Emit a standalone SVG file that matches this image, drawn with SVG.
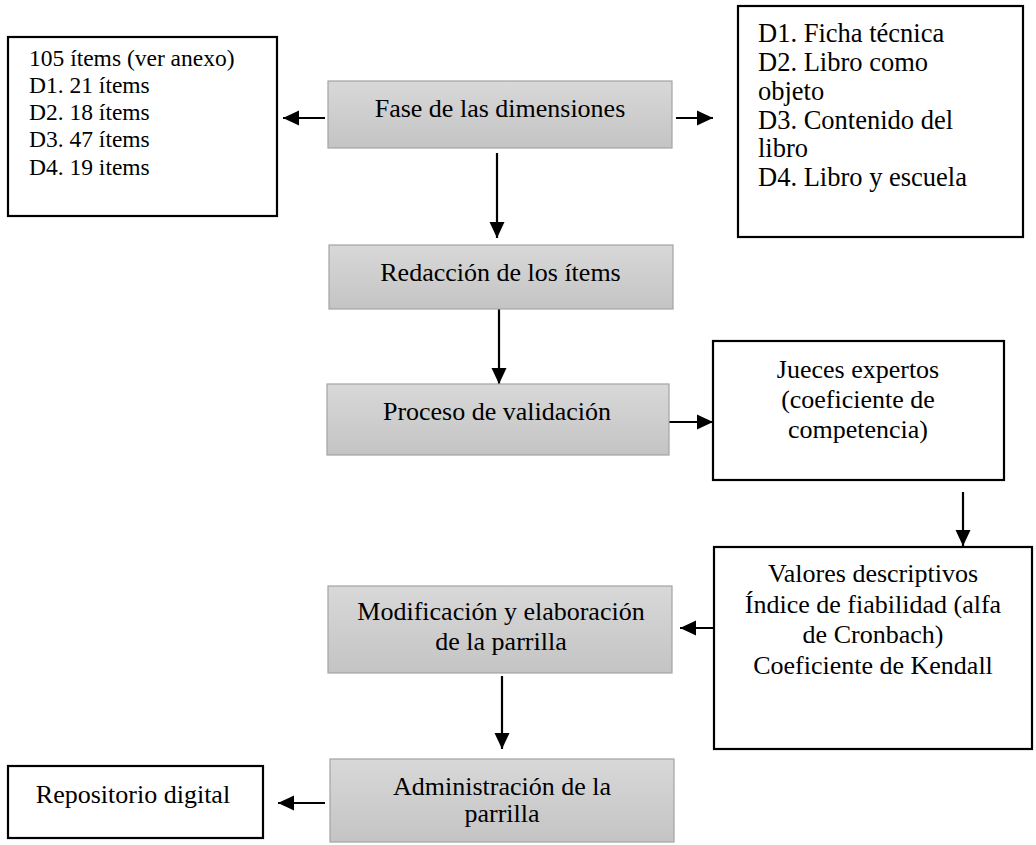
<svg xmlns="http://www.w3.org/2000/svg" width="1036" height="845" viewBox="0 0 1036 845">
<style>
.t{font-family:"Liberation Serif","Times New Roman",serif;fill:#000;}
.g{fill:url(#gr);stroke:#a3a3a3;stroke-width:1.2;}
.b{fill:#fff;stroke:#000;stroke-width:2.2;}
.c{stroke:#000;stroke-width:2.2;fill:none;marker-end:url(#ah);}
.m{font-size:26px;text-anchor:middle;}
</style>
<defs>
<linearGradient id="gr" x1="0" y1="0" x2="0" y2="1">
<stop offset="0" stop-color="#d8d8d8"/>
<stop offset="1" stop-color="#c4c4c4"/>
</linearGradient>
<marker id="ah" markerUnits="userSpaceOnUse" viewBox="0 0 16 16" refX="16" refY="8" markerWidth="16" markerHeight="16" orient="auto">
<path d="M0,0.5 L16,8 L0,15.5 z" fill="#000"/>
</marker>
</defs>
<rect width="1036" height="845" fill="#fff"/>
<g id="connectors">
<line class="c" x1="325" y1="118" x2="283" y2="118"/>
<line class="c" x1="676" y1="118" x2="713" y2="118"/>
<line class="c" x1="497" y1="153" x2="497" y2="238"/>
<line class="c" x1="499" y1="309" x2="499" y2="384"/>
<line class="c" x1="668" y1="422" x2="713" y2="422"/>
<line class="c" x1="963" y1="492" x2="963" y2="546"/>
<line class="c" x1="738" y1="628" x2="680" y2="628"/>
<line class="c" x1="502" y1="676" x2="502" y2="749"/>
<line class="c" x1="325" y1="803" x2="278" y2="803"/>
</g>
<g id="items">
<rect class="b" x="8" y="37" width="269" height="179"/>
<text class="t" font-size="23.5" x="29"><tspan x="29" y="66">105 ítems (ver anexo)</tspan><tspan x="29" y="93">D1. 21 ítems</tspan><tspan x="29" y="120">D2. 18 ítems</tspan><tspan x="29" y="147">D3. 47 ítems</tspan><tspan x="29" y="175">D4. 19 items</tspan></text>
</g>
<g id="fase">
<rect class="g" x="328" y="81" width="344" height="67"/>
<text class="t m" x="500" y="117">Fase de las dimensiones</text>
</g>
<g id="dimensiones">
<rect class="b" x="738" y="6" width="285" height="231"/>
<text class="t" font-size="26.5"><tspan x="758" y="42">D1. Ficha técnica</tspan><tspan x="758" y="71">D2. Libro como</tspan><tspan x="758" y="99.5">objeto</tspan><tspan x="758" y="128.5">D3. Contenido del</tspan><tspan x="758" y="157">libro</tspan><tspan x="758" y="186">D4. Libro y escuela</tspan></text>
</g>
<g id="redaccion">
<rect class="g" x="329" y="245" width="344" height="64"/>
<text class="t m" x="500.5" y="281">Redacción de los ítems</text>
</g>
<g id="proceso">
<rect class="g" x="327" y="384" width="342" height="71"/>
<text class="t m" x="497" y="420">Proceso de validación</text>
</g>
<g id="jueces">
<rect class="b" x="713" y="341" width="291" height="139"/>
<text class="t m"><tspan x="858" y="378">Jueces expertos</tspan><tspan x="858" y="408">(coeficiente de</tspan><tspan x="858" y="438">competencia)</tspan></text>
</g>
<g id="valores">
<rect class="b" x="714" y="547" width="318" height="202"/>
<text class="t m"><tspan x="873" y="582">Valores descriptivos</tspan><tspan x="873" y="613">Índice de fiabilidad (alfa</tspan><tspan x="873" y="643">de Cronbach)</tspan><tspan x="873" y="674">Coeficiente de Kendall</tspan></text>
</g>
<g id="modificacion">
<rect class="g" x="328" y="586" width="344" height="87"/>
<text class="t m"><tspan x="501" y="620">Modificación y elaboración</tspan><tspan x="501" y="650">de la parrilla</tspan></text>
</g>
<g id="administracion">
<rect class="g" x="330" y="759" width="344" height="83"/>
<text class="t m"><tspan x="502" y="795">Administración de la</tspan><tspan x="502" y="822">parrilla</tspan></text>
</g>
<g id="repositorio">
<rect class="b" x="8" y="766" width="255" height="72"/>
<text class="t m" x="133" y="803">Repositorio digital</text>
</g>
</svg>
